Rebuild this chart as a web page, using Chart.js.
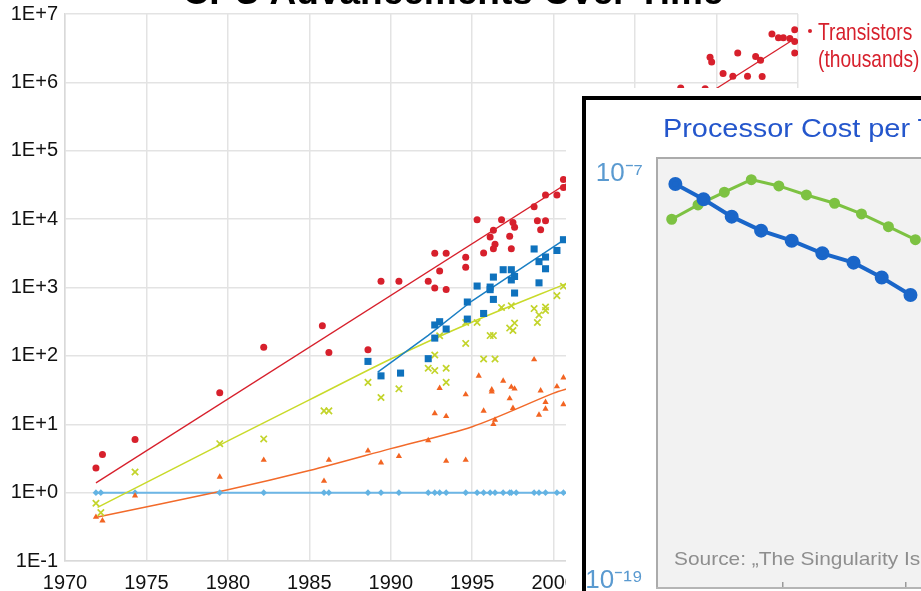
<!DOCTYPE html>
<html>
<head>
<meta charset="utf-8">
<script src="https://cdn.jsdelivr.net/npm/chart.js@4.4.1/dist/chart.umd.min.js"></script>
<style>
  html, body { margin: 0; padding: 0; width: 921px; height: 591px; overflow: hidden; background: #fff; }
  body { position: relative; font-family: "Liberation Sans", Arial, sans-serif; }
  #main { position: absolute; left: 0; top: 0; }
  #title { position: absolute; left: 0; width: 906px; top: -27px; text-align: center; font: bold 37px/37px "Liberation Sans", Arial, sans-serif; color: #000; white-space: nowrap; }
  #legendDot { position: absolute; left: 808px; top: 29px; width: 4px; height: 4px; border-radius: 50%; background: #d7202c; }
  #legend { position: absolute; left: 818px; top: 19px; color: #d7202c; font: 24px/26.5px "Liberation Sans", Arial, sans-serif; transform: scaleX(0.8); transform-origin: 0 0; white-space: nowrap; }
  #cover { position: absolute; left: 566px; top: 88px; width: 400px; height: 600px; background: #fff; }
  #frame { position: absolute; left: 582px; top: 96px; width: 600px; height: 600px; border: 4px solid #000; background: #fff; overflow: hidden; }
  #inset { position: absolute; left: 0; top: 0; }
  #insetTitle { position: absolute; left: 77px; top: 15px; font: 26px/26px "Liberation Sans", Arial, sans-serif; color: #2456cc; transform: scaleX(1.11); transform-origin: 0 0; white-space: nowrap; }
  #source { position: absolute; left: 88px; top: 449px; font: 19px/19px "Liberation Sans", Arial, sans-serif; color: #8e8e8e; transform: scaleX(1.1); transform-origin: 0 0; white-space: nowrap; }
</style>
</head>
<body>
<canvas id="main" width="921" height="591"></canvas>
<div id="title">CPU Advancements Over Time</div>
<div id="legendDot"></div>
<div id="legend">Transistors<br>(thousands)</div>
<div id="cover"></div>
<div id="frame">
  <canvas id="inset" width="560" height="500"></canvas>
  <div id="insetTitle">Processor Cost per Transistor</div>
  <div id="source">Source: „The Singularity Is Near</div>
</div>
<script>
// main chart ticks
let xTickValues = [1970, 1975, 1980, 1985, 1990, 1995, 2000, 2005, 2010, 2015];
let yTickValues = [0.1, 1, 10, 100, 1000, 10000, 100000, 1000000, 10000000];
let yTickLabels = ['1E-1', '1E+0', '1E+1', '1E+2', '1E+3', '1E+4', '1E+5', '1E+6', '1E+7'];

// transistors (thousands)
let transYears = [1971.9, 1972.3, 1974.3, 1979.5, 1982.2, 1985.8, 1986.2, 1988.6, 1989.4, 1990.5, 1992.3, 1992.7, 1992.7, 1993.0, 1993.4, 1993.4, 1994.6, 1994.6, 1995.3, 1995.7, 1996.1, 1996.3, 1996.4, 1996.3, 1996.8, 1997.3, 1997.5, 1997.6, 1997.4, 1998.8, 1999.0, 1999.5, 1999.2, 1999.5, 2000.2, 2000.6, 2000.6, 2007.8, 2009.3, 2009.6, 2009.7, 2010.4, 2011.0, 2011.3, 2011.9, 2012.4, 2012.7, 2012.8, 2013.4, 2013.8, 2014.1, 2014.5, 2014.8, 2014.8, 2014.8];
let transVals = [2.3, 3.6, 6, 29, 134, 275, 112, 123, 1230, 1230, 1230, 3160, 980, 1740, 3160, 935, 2760, 1970, 9800, 3200, 5500, 6900, 4300, 3700, 9800, 5600, 8900, 7600, 3700, 15200, 9500, 9500, 7000, 22500, 22500, 38000, 29000, 830000, 805000, 2340000, 1990000, 1350000, 1230000, 2700000, 1230000, 2400000, 2100000, 1220000, 5100000, 4500000, 4500000, 4400000, 5900000, 3960000, 2700000];
let transTrendYears = [1971.9, 2014.6];
let transTrendVals = [1.39, 4070000];

// blue squares
let perfYears = [1988.6, 1989.4, 1990.6, 1992.3, 1992.7, 1992.7, 1993.0, 1993.4, 1994.7, 1994.7, 1995.3, 1995.7, 1996.1, 1996.1, 1996.3, 1996.3, 1996.9, 1997.4, 1997.6, 1997.4, 1997.6, 1998.8, 1999.1, 1999.5, 1999.5, 1999.1, 2000.2, 2000.6];
let perfVals = [83, 51, 56, 91, 182, 283, 316, 247, 613, 345, 1050, 417, 1015, 930, 670, 1420, 1820, 1820, 1450, 1290, 830, 3660, 2390, 2790, 1880, 1170, 3480, 5000];
let perfTrendYears = [1989.2, 1992.3, 1995.0, 2000.7];
let perfTrendVals = [58, 200, 640, 5100];

// yellow-green crosses
let freqYears = [1971.9, 1972.2, 1974.3, 1979.5, 1982.2, 1985.9, 1986.2, 1988.6, 1989.4, 1990.5, 1992.3, 1992.7, 1992.7, 1993.0, 1993.4, 1993.4, 1994.6, 1994.6, 1995.3, 1995.7, 1996.1, 1996.3, 1996.4, 1996.8, 1997.3, 1997.4, 1997.5, 1997.6, 1998.8, 1999.0, 1999.1, 1999.5, 1999.5, 2000.2, 2000.6];
let freqVals = [0.7, 0.51, 2.0, 5.2, 6.1, 15.7, 15.7, 41, 24.6, 33, 66, 61, 103, 197, 66, 41, 308, 152, 308, 90, 198, 198, 90, 510, 255, 540, 235, 302, 492, 308, 397, 518, 462, 760, 1040];
let freqTrendYears = [1972.0, 1980, 1985, 1990, 1995, 2001];
let freqTrendVals = [0.61, 5.7, 22.7, 90, 313, 1200];

// orange triangles
let powerYears = [1971.9, 1972.3, 1974.3, 1979.5, 1982.2, 1985.9, 1986.2, 1988.6, 1989.4, 1990.5, 1992.3, 1992.7, 1993.0, 1993.4, 1993.4, 1994.6, 1994.6, 1995.4, 1995.7, 1996.2, 1996.2, 1996.4, 1996.3, 1996.9, 1997.3, 1997.4, 1997.6, 1997.5, 1998.8, 1999.2, 1999.5, 1999.5, 1999.1, 2000.2, 2000.6, 2000.6];
let powerVals = [0.44, 0.39, 0.9, 1.7, 3.0, 1.48, 3.0, 4.1, 2.75, 3.4, 5.8, 14.4, 33.7, 13.1, 2.9, 27.2, 3.0, 51, 15.7, 32, 30, 11.6, 10, 43, 23.8, 35, 33, 17.2, 88.5, 31, 21, 16.8, 13.7, 35.6, 48, 19.5];
let powerTrendYears = [1972.0, 1980, 1985, 1990, 1995, 2000, 2001];
let powerTrendVals = [0.44, 1.1, 2.1, 4.4, 9.2, 28.5, 34];

// light blue diamonds
let coreYears = [1971.9, 1972.2, 1974.3, 1979.5, 1982.2, 1985.9, 1986.2, 1988.6, 1989.4, 1990.5, 1992.3, 1992.7, 1993.0, 1993.4, 1994.6, 1995.3, 1995.7, 1996.1, 1996.4, 1996.9, 1997.3, 1997.4, 1997.7, 1998.8, 1999.1, 1999.5, 2000.2, 2000.6];
let coreVals = [1, 1, 1, 1, 1, 1, 1, 1, 1, 1, 1, 1, 1, 1, 1, 1, 1, 1, 1, 1, 1, 1, 1, 1, 1, 1, 1, 1];
let coreTrendYears = [1971.9, 2001];
let coreTrendVals = [1, 1];

// inset: processor cost per transistor
let insetXTicks = [1980, 1990, 2000];
let insetYTickValues = [1e-19, 1e-7];
let insetYTickLabels = ['10⁻¹⁹', '10⁻⁷'];
let costYearsA = [1971.2, 1973.5, 1975.8, 1978.2, 1980.7, 1983.2, 1985.75, 1988.05, 1990.4];
let costValsA = [5.07e-8, 1.79e-8, 5.51e-9, 2.13e-9, 1.08e-9, 4.59e-10, 2.43e-10, 8.89e-11, 2.71e-11];
let costYearsB = [1970.9, 1973.05, 1975.2, 1977.4, 1979.65, 1981.9, 1984.2, 1986.4, 1988.6, 1990.8];
let costValsB = [4.62e-9, 1.22e-8, 2.90e-8, 6.79e-8, 4.43e-8, 2.40e-8, 1.37e-8, 6.62e-9, 2.79e-9, 1.16e-9];

Chart.defaults.font.family = '"Liberation Sans", Arial, sans-serif';

function pts(xs, ys) {
  return xs.map((x, i) => ({ x: x, y: ys[i] }));
}

function markers(xs, ys, color, style, radius, width) {
  return {
    data: pts(xs, ys),
    pointStyle: style,
    pointRadius: radius,
    borderWidth: width,
    borderColor: color,
    backgroundColor: color,
    showLine: false
  };
}

function trend(xs, ys, color, width, tension) {
  return {
    data: pts(xs, ys),
    showLine: true,
    pointRadius: 0,
    borderColor: color,
    borderWidth: width,
    tension: tension || 0
  };
}

// keep label overhang from shrinking the plot area
function noOverhang(s) {
  s.paddingTop = 0; s.paddingBottom = 0; s.paddingLeft = 0; s.paddingRight = 0;
}

let mainChart = new Chart(document.getElementById('main'), {
  type: 'scatter',
  data: {
    datasets: [
      markers(transYears, transVals, '#d7202c', 'circle', 3.5, 0),
      markers(perfYears, perfVals, '#0f72bd', 'rect', 5, 0),
      markers(freqYears, freqVals, '#c3d42b', 'crossRot', 4.5, 1.7),
      markers(powerYears, powerVals, '#f26422', 'triangle', 3.6, 0),
      markers(coreYears, coreVals, '#63b3e3', 'rectRot', 3.3, 0),
      trend(transTrendYears, transTrendVals, '#d7202c', 1.3),
      trend(perfTrendYears, perfTrendVals, '#1a7fc4', 1.5),
      trend(freqTrendYears, freqTrendVals, '#c9da2a', 1.5, 0.3),
      trend(powerTrendYears, powerTrendVals, '#f26a2a', 1.5, 0.3),
      trend(coreTrendYears, coreTrendVals, '#6cb6e6', 2)
    ]
  },
  options: {
    responsive: false,
    animation: false,
    layout: { autoPadding: false, padding: { top: 14, right: 123, bottom: 0, left: 0 } },
    plugins: { legend: { display: false }, tooltip: { enabled: false } },
    scales: {
      x: {
        type: 'linear', min: 1970, max: 2015,
        afterBuildTicks: s => { s.ticks = xTickValues.map(v => ({ value: v })); },
        afterFit: s => { s.height = 30; noOverhang(s); },
        grid: { color: '#e3e3e3', lineWidth: 1.5, drawTicks: false },
        border: { color: '#d9d9d9', width: 1.5 },
        ticks: { padding: 10, color: '#111', font: { size: 20 }, maxRotation: 0, autoSkip: false, callback: v => String(v) }
      },
      y: {
        type: 'logarithmic', min: 0.1, max: 10000000,
        afterBuildTicks: s => { s.ticks = yTickValues.map(v => ({ value: v })); },
        afterFit: s => { s.width = 65; noOverhang(s); },
        grid: { color: '#e3e3e3', lineWidth: 1.5, drawTicks: false },
        border: { color: '#d9d9d9', width: 1.5 },
        ticks: { padding: 7, color: '#111', font: { size: 20 }, autoSkip: false, callback: (v, i) => yTickLabels[i] }
      }
    }
  }
});

// grey plot background with a frame on the left and top
const plotBox = {
  id: 'plotBox',
  beforeDraw(chart) {
    const ctx = chart.ctx, a = chart.chartArea;
    ctx.save();
    ctx.fillStyle = '#f2f2f2';
    ctx.fillRect(a.left, a.top, a.right - a.left, a.bottom - a.top);
    ctx.strokeStyle = '#ababab';
    ctx.lineWidth = 2;
    ctx.beginPath();
    ctx.moveTo(a.left, a.bottom);
    ctx.lineTo(a.left, a.top);
    ctx.lineTo(a.right, a.top);
    ctx.stroke();
    ctx.restore();
  }
};

let insetChart = new Chart(document.getElementById('inset'), {
  type: 'scatter',
  data: {
    datasets: [
      { data: pts(costYearsA, costValsA), showLine: true, borderColor: '#1a66c9', backgroundColor: '#1a66c9', borderWidth: 4, pointRadius: 5, tension: 0 },
      { data: pts(costYearsB, costValsB), showLine: true, borderColor: '#7dc242', backgroundColor: '#7dc242', borderWidth: 3, pointRadius: 4, tension: 0 }
    ]
  },
  options: {
    responsive: false,
    animation: false,
    layout: { autoPadding: false, padding: { top: 58, right: 20, bottom: 0, left: 0 } },
    plugins: { legend: { display: false }, tooltip: { enabled: false } },
    scales: {
      x: {
        type: 'linear', min: 1969.7, max: 2008,
        afterBuildTicks: s => { s.ticks = insetXTicks.map(v => ({ value: v })); },
        afterFit: s => { s.height = 12; noOverhang(s); },
        grid: { drawOnChartArea: false, tickLength: -6, color: '#9a9a9a', lineWidth: 1.5 },
        border: { color: '#b5b5b5', width: 2 },
        ticks: { display: false }
      },
      y: {
        type: 'logarithmic', min: 6.3e-20, max: 2.95e-7,
        afterBuildTicks: s => { s.ticks = insetYTickValues.map(v => ({ value: v })); },
        afterFit: s => { s.width = 71; noOverhang(s); },
        grid: { display: false },
        border: { display: false },
        ticks: { color: '#5a9ad0', font: { size: 26 }, padding: 6, autoSkip: false, callback: (v, i) => insetYTickLabels[i] }
      }
    }
  },
  plugins: [plotBox]
});
</script>
</body>
</html>
